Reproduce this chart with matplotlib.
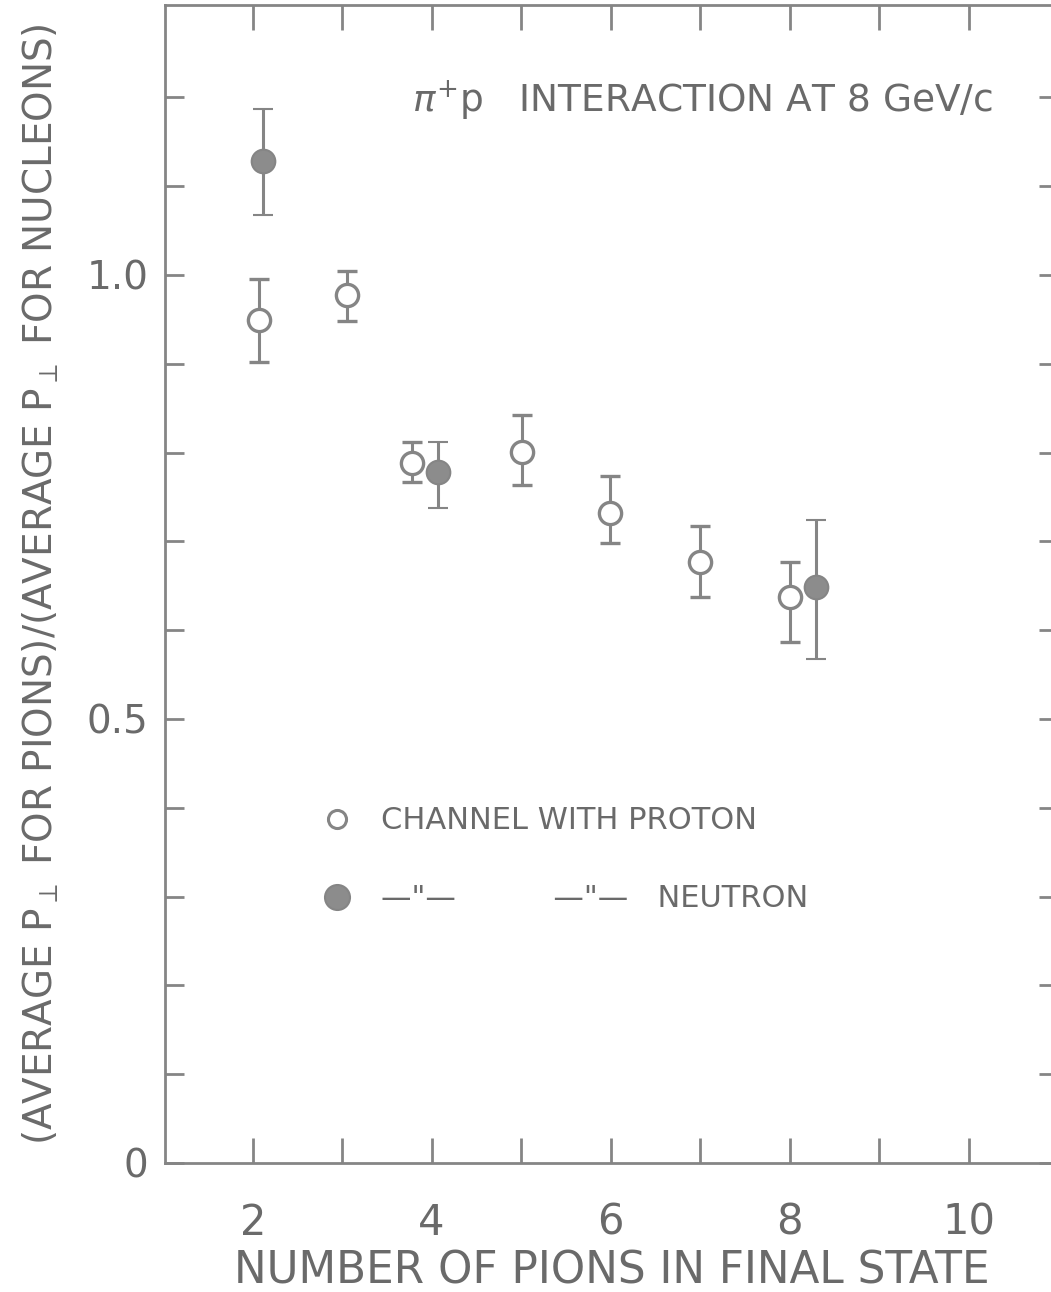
import matplotlib.pyplot as plt
from matplotlib.lines import Line2D

# values
proton_x = [2.07, 3.05, 3.78, 5.01, 5.99, 7.0, 8.0]
proton_y = [0.949, 0.977, 0.788, 0.801, 0.732, 0.677, 0.637]
proton_lo = [0.902, 0.948, 0.767, 0.763, 0.698, 0.637, 0.587]
proton_hi = [0.995, 1.004, 0.812, 0.842, 0.774, 0.717, 0.677]

neutron_x = [2.11, 4.07, 8.29]
neutron_y = [1.128, 0.778, 0.649]
neutron_lo = [1.068, 0.738, 0.568]
neutron_hi = [1.187, 0.812, 0.724]

x_ticks = [2, 3, 4, 5, 6, 7, 8, 9, 10]
x_labels = ["2", "", "4", "", "6", "", "8", "", "10"]
y_ticks = [0.1 * i for i in range(13)]
y_labels = ["0", "", "", "", "", "0.5", "", "", "", "", "1.0", "", ""]

pencil = "#858585"
ink = "#6a6a6a"
plt.rcParams['font.family'] = ['DejaVu Sans']

fig = plt.figure(figsize=(10.51, 12.92), dpi=100)
ax = fig.add_axes([165 / 1051, 129 / 1292, 893 / 1051, 1158 / 1292])

p_err = [[y - lo for y, lo in zip(proton_y, proton_lo)],
         [hi - y for y, hi in zip(proton_y, proton_hi)]]
n_err = [[y - lo for y, lo in zip(neutron_y, neutron_lo)],
         [hi - y for y, hi in zip(neutron_y, neutron_hi)]]

ax.errorbar(proton_x, proton_y, yerr=p_err, fmt='o', ms=16, mfc='white',
            mec=pencil, mew=2.4, ecolor=pencil, elinewidth=2.2, capsize=7,
            capthick=2.4, zorder=3)
ax.errorbar(neutron_x, neutron_y, yerr=n_err, fmt='o', ms=17, mfc='#8c8c8c',
            mec=pencil, mew=1.5, ecolor=pencil, elinewidth=2.2, capsize=7,
            capthick=2.4, zorder=4)

ax.set_xlim(1.02, 11.0)
ax.set_ylim(0, 1.304)

ax.set_xticks(x_ticks)
ax.set_xticklabels(x_labels)
ax.set_yticks(y_ticks)
ax.set_yticklabels(y_labels)
ax.tick_params(axis='both', direction='in', color=pencil, width=2,
               labelcolor=ink)
ax.tick_params(axis='x', length=18, pad=28, top=True, labelsize=30)
ax.tick_params(axis='y', length=14, pad=12, right=True, labelsize=28)

for s in ax.spines.values():
    s.set_color(pencil)
    s.set_linewidth(2)

ax.set_xlabel("NUMBER OF PIONS IN FINAL STATE", fontsize=31.5, color=ink,
              labelpad=4)
ax.set_ylabel(r"(AVERAGE P$_{\perp}$ FOR PIONS)/(AVERAGE P$_{\perp}$ FOR NUCLEONS)",
              fontsize=28, color=ink, labelpad=18)

ax.text(3.78, 1.197, r"$\pi^{+}$p   INTERACTION AT 8 GeV/c", fontsize=27,
        color=ink, va='center', ha='left')

handles = [
    Line2D([], [], ls='none', marker='o', ms=13, mfc='white', mec=pencil, mew=2.2),
    Line2D([], [], ls='none', marker='o', ms=18, mfc='#8c8c8c', mec=pencil, mew=1.5),
]
labels = ["CHANNEL WITH PROTON", '—"—          —"—   NEUTRON']
ax.legend(handles, labels, loc='upper left', bbox_to_anchor=(0.175, 0.308),
          frameon=False, fontsize=22, labelcolor=ink, handlelength=1.0,
          handletextpad=0.95, labelspacing=1.6, borderpad=0, borderaxespad=0)

fig.savefig("out.png", dpi=100)
